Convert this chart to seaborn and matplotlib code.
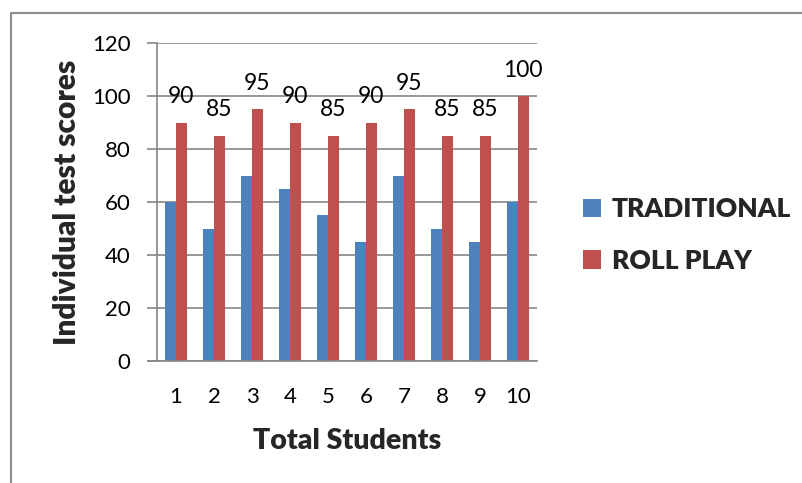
import matplotlib
matplotlib.use("Agg")
import matplotlib.pyplot as plt
from matplotlib.lines import Line2D
from matplotlib.patches import Patch
import seaborn as sns
import pandas as pd

students = [1, 2, 3, 4, 5, 6, 7, 8, 9, 10]
traditional = [60, 50, 70, 65, 55, 45, 70, 50, 45, 60]
roll_play = [90, 85, 95, 90, 85, 90, 95, 85, 85, 100]
series_names = ["TRADITIONAL", "ROLL PLAY"]
y_ticks = [0, 20, 40, 60, 80, 100, 120]

BLUE = "#4F81BD"
RED = "#C0504D"
GRID = "#868686"

df = pd.DataFrame({
    "Student": [str(s) for s in students] * 2,
    "Score": traditional + roll_play,
    "Method": [series_names[0]] * len(students) + [series_names[1]] * len(students),
})

sns.set_theme(style="white")
plt.rcParams["font.family"] = ["Lato", "DejaVu Sans"]

fig = plt.figure(figsize=(8.02, 4.83), dpi=100)
ax = fig.add_axes([157 / 802, 1 - 361 / 483, 380 / 802, 318 / 483])

sns.barplot(data=df, x="Student", y="Score", hue="Method",
            palette=[BLUE, RED], width=0.56, gap=0, ax=ax,
            saturation=1, legend=False, edgecolor="none", linewidth=0)

ax.set_ylim(0, 120)
ax.set_yticks(y_ticks)
ax.set_xlim(-0.5, len(students) - 0.5)
ax.yaxis.grid(True, color=GRID, linewidth=1.2)
ax.set_axisbelow(True)

for side in ["top", "right"]:
    ax.spines[side].set_visible(False)
for side in ["left", "bottom"]:
    ax.spines[side].set_color(GRID)
    ax.spines[side].set_linewidth(1.2)

ax.tick_params(axis="y", which="major", length=7, width=1.2, color=GRID,
               left=True, labelsize=16, pad=12, labelcolor="black")
ax.tick_params(axis="x", length=0, labelsize=16, pad=19, labelcolor="black")

# extend the zero line left like the other tick marks
ax.plot([-0.5 - 9 / 38, -0.5], [0, 0], color=GRID, linewidth=1.2,
        clip_on=False, zorder=3)

ax.bar_label(ax.containers[1], labels=[str(v) for v in roll_play],
             padding=11, fontsize=16.5, color="black")

ax.set_xlabel("Total Students", fontsize=20.5, fontweight=800, labelpad=15)
ax.set_ylabel("Individual test scores", fontsize=21.5, fontweight=800, labelpad=8)

handles = [Patch(facecolor=BLUE, edgecolor="none"),
           Patch(facecolor=RED, edgecolor="none")]
fig.legend(handles, series_names, loc="upper left",
           bbox_to_anchor=(583 / 802, 1 - 197 / 483),
           frameon=False, prop={"size": 19, "weight": 800},
           borderpad=0, borderaxespad=0,
           handlelength=0.68, handleheight=0.68, handletextpad=0.4,
           labelspacing=1.05)

# outer chart frame (top and left edges)
fig.add_artist(Line2D([11 / 802, 11 / 802, 1.0],
                      [0.0, 1 - 13 / 483, 1 - 13 / 483],
                      transform=fig.transFigure, color="#8C8C8C", linewidth=1.5))

fig.savefig("out.png", dpi=100)
